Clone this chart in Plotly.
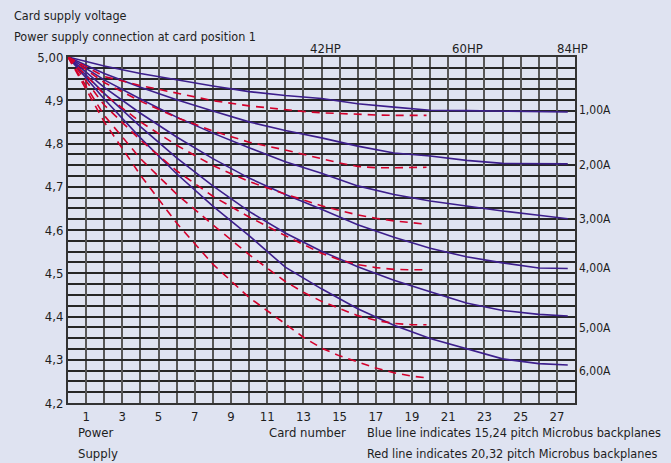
import plotly.graph_objects as go

# ---- data ----
blue_x = [0, 2, 4, 6, 8, 10, 12, 14, 16, 18, 20, 22, 24, 26, 27.6]
blue_1A = [5.0, 4.979, 4.962, 4.947, 4.933, 4.920, 4.911, 4.904, 4.892, 4.884, 4.877, 4.876, 4.875, 4.874, 4.873]
blue_2A = [5.0, 4.962, 4.930, 4.901, 4.875, 4.850, 4.830, 4.813, 4.794, 4.778, 4.771, 4.761, 4.754, 4.753, 4.753]
blue_3A = [5.0, 4.947, 4.903, 4.861, 4.824, 4.790, 4.758, 4.731, 4.702, 4.682, 4.667, 4.655, 4.644, 4.634, 4.626]
blue_4A = [5.0, 4.930, 4.870, 4.815, 4.765, 4.720, 4.682, 4.648, 4.612, 4.583, 4.558, 4.538, 4.524, 4.512, 4.511]
blue_5A = [5.0, 4.916, 4.839, 4.767, 4.702, 4.643, 4.593, 4.551, 4.515, 4.484, 4.457, 4.431, 4.414, 4.405, 4.401]
blue_6A = [5.0, 4.903, 4.813, 4.730, 4.655, 4.587, 4.514, 4.464, 4.418, 4.380, 4.349, 4.326, 4.302, 4.291, 4.288]

red_x = [0, 2, 4, 6, 8, 10, 12, 13, 14, 15, 16, 17, 18, 19, 19.8]
red_1A = [5.0, 4.955, 4.934, 4.916, 4.899, 4.887, 4.878, 4.874, 4.871, 4.869, 4.867, 4.866, 4.865, 4.865, 4.865]
red_2A = [5.0, 4.941, 4.898, 4.860, 4.829, 4.803, 4.785, 4.775, 4.765, 4.755, 4.747, 4.744, 4.744, 4.745, 4.745]
red_3A = [5.0, 4.914, 4.850, 4.796, 4.749, 4.712, 4.683, 4.669, 4.656, 4.645, 4.635, 4.627, 4.621, 4.617, 4.613]
red_4A = [5.0, 4.889, 4.808, 4.737, 4.678, 4.630, 4.587, 4.566, 4.546, 4.531, 4.520, 4.513, 4.509, 4.508, 4.508]
red_5A = [5.0, 4.865, 4.765, 4.683, 4.612, 4.543, 4.481, 4.456, 4.435, 4.418, 4.402, 4.391, 4.384, 4.381, 4.381]
red_6A = [5.0, 4.850, 4.727, 4.616, 4.521, 4.444, 4.383, 4.352, 4.327, 4.309, 4.295, 4.281, 4.270, 4.262, 4.258]

x_ticks = [1, 3, 5, 7, 9, 11, 13, 15, 17, 19, 21, 23, 25, 27]
y_ticks = [4.2, 4.3, 4.4, 4.5, 4.6, 4.7, 4.8, 4.9, 5.0]
y_ticklabels = ["4,2", "4,3", "4,4", "4,5", "4,6", "4,7", "4,8", "4,9", "5,00"]
current_labels = ["1,00A", "2,00A", "3,00A", "4,00A", "5,00A", "6,00A"]
hp_labels = ["42HP", "60HP", "84HP"]

# ---- styling ----
BG = "#dfe3f1"
BLUE = "#3c1e8c"
RED = "#d3002b"
FONT = "DejaVu Sans Condensed"
TXT = "#1e1e1e"

W, H = 671, 463
L, R, T, B = 68, 575, 57, 403

fig = go.Figure()

for ys in [blue_1A, blue_2A, blue_3A, blue_4A, blue_5A, blue_6A]:
    fig.add_trace(go.Scatter(x=blue_x, y=ys, mode="lines",
                             line=dict(color=BLUE, width=1.6), hoverinfo="skip"))
for ys in [red_1A, red_2A, red_3A, red_4A, red_5A, red_6A]:
    fig.add_trace(go.Scatter(x=red_x, y=ys, mode="lines",
                             line=dict(color=RED, width=1.6, dash="8px,6px"), hoverinfo="skip"))


def px2paper(px, py):
    return (px - L) / (R - L), (B - py) / (B - T)


annotations = []


def add_text(text, px, py, xanchor="left", size=13):
    xp, yp = px2paper(px, py)
    annotations.append(dict(text=text, x=xp, y=yp, xref="paper", yref="paper",
                            xanchor=xanchor, yanchor="middle", showarrow=False,
                            font=dict(family=FONT, size=size, color=TXT)))


add_text("Card supply voltage", 12, 15, size=12.5)
add_text("Power supply connection at card position 1", 12, 36, size=12.5)
for lab, cx in zip(hp_labels, [325, 467, 572]):
    add_text(lab, cx, 48, xanchor="center", size=13)
for lab, cy in zip(current_labels, [110, 165, 219, 268, 328, 371]):
    add_text(lab, 577, cy, size=12)
add_text("Power", 76, 432, size=13)
add_text("Supply", 76, 453, size=13)
add_text("Card number", 267, 432, size=13)
add_text("Blue line indicates 15,24 pitch Microbus backplanes", 365, 432, size=12.6)
add_text("Red line indicates 20,32 pitch Microbus backplanes", 365, 453, size=12.6)

fig.update_layout(
    width=W, height=H, autosize=False,
    margin=dict(l=L, r=W - R, t=T, b=H - B, pad=0),
    paper_bgcolor=BG, plot_bgcolor=BG,
    showlegend=False,
    annotations=annotations,
    font=dict(family=FONT, size=13, color=TXT),
)

fig.update_xaxes(
    range=[0, 28], tickvals=x_ticks, ticks="",
    showgrid=True, gridcolor="#575757", gridwidth=2,
    minor=dict(dtick=1, tick0=0, showgrid=True, gridcolor="#575757", gridwidth=2),
    showline=True, mirror=True, linecolor="#333", linewidth=2,
    zeroline=False, tickfont=dict(family=FONT, size=13, color=TXT),
)
fig.update_yaxes(
    range=[4.2, 5.0], tickvals=y_ticks, ticktext=y_ticklabels, ticks="",
    showgrid=True, gridcolor="#262626", gridwidth=2,
    minor=dict(dtick=0.025, tick0=4.2, showgrid=True, gridcolor="#262626", gridwidth=2),
    showline=True, mirror=True, linecolor="#333", linewidth=2,
    zeroline=False, tickfont=dict(family=FONT, size=13, color=TXT),
)

fig.write_html("out.html", config={"displayModeBar": False, "staticPlot": True},
               post_script="document.body.style.margin='0';document.body.style.overflow='hidden';")
